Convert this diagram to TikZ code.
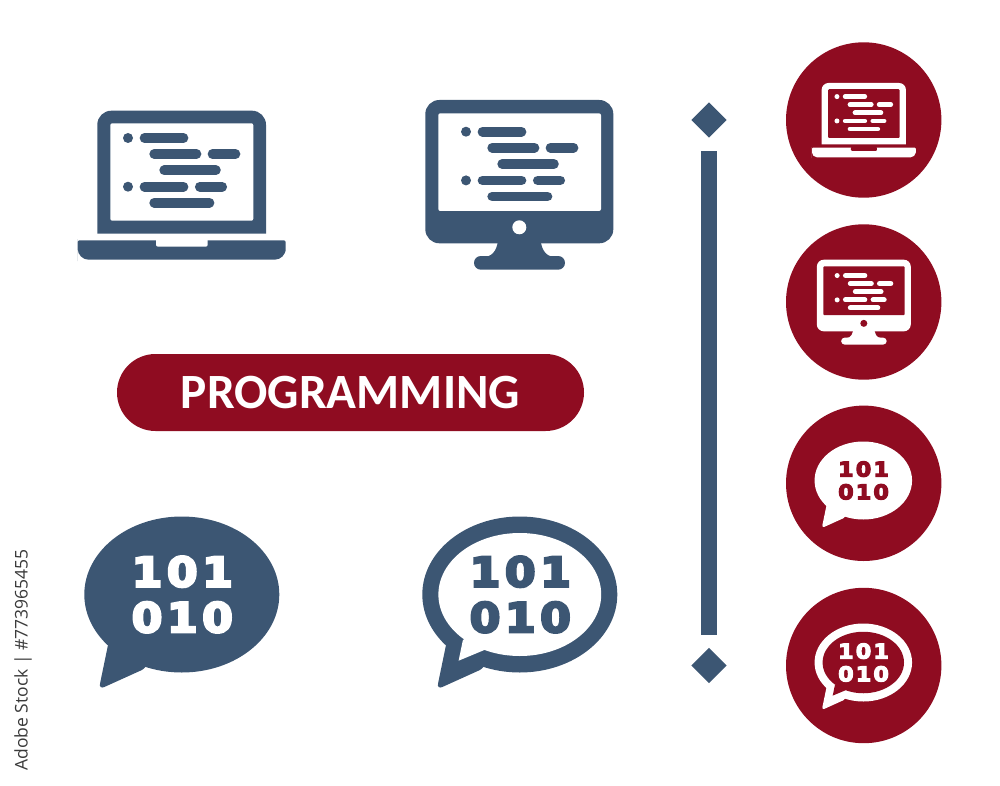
\documentclass[tikz,border=0pt]{standalone}
\usepackage{fontspec}
\setmainfont{Carlito}
\setsansfont{Open Sans}
\newfontfamily\bitfont[LetterSpace=10,FakeBold=5.5]{DejaVu Sans Bold}
\definecolor{iconblue}{HTML}{3C5673}
\definecolor{iconred}{HTML}{8F0C21}
\definecolor{sidegray}{HTML}{3A3A3A}
% the code lines on a screen, dot of the first line at the current origin
\newcommand{\codelines}[2]{
  \fill[#1] (0,0) circle (5) (0,48.7) circle (5);
  \foreach \xa/\xb/\yb in {16.5/55.5/0, 26.2/68.5/16, 84.5/107.5/16, 36.2/87.9/32.3,
      16.5/55.5/48.7, 71.8/94.2/48.7, 26.2/81.5/64.7}
    \draw[#1, line width=#2*9.7pt, line cap=round] (\xa,\yb) -- (\xb,\yb);
}
% the two rows of bits of a speech bubble
\newcommand{\bitrows}[1]{
  \node (bita) [bits, text=#1] at (0.5,-22.8) {101};
  \node (bitb) [bits, text=#1] at (0.5,22.8) {010};
}
\tikzset{
  bits/.style={inner sep=0pt, font=\bitfont\fontsize{41}{41}\selectfont, transform shape, xscale=1.08},
  pics/laptopicon/.style n args={3}{code={
    \begin{scope}[scale=#3, transform shape]
      \fill[#1] (-84.4,48.5) [rounded corners=#3*14pt] -- (-84.4,-74.5) -- (84.3,-74.5) [sharp corners] -- (84.3,48.5) -- cycle;
      \fill[#2, rounded corners=#3*2pt] (-71.4,-61.9) rectangle (71.6,35.5);
      \fill[#1] (-104,65) [rounded corners=#3*2pt] -- (-104,55.1) -- (104,55.1) -- (104,65) [rounded corners=#3*11pt] -- (104,74.5) -- (-104,74.5) -- cycle;
      \fill[#2, rounded corners=#3*2pt] (-25.7,53) rectangle (26,61.5);
      \begin{scope}[shift={(-53.7,-47.2)}]
        \codelines{#1}{#3}
      \end{scope}
    \end{scope}
  }},
  pics/monitoricon/.style n args={3}{code={
    \begin{scope}[scale=#3, transform shape]
      \fill[#1, rounded corners=#3*14pt] (-94,-84.8) rectangle (94,58.5);
      \fill[#2, rounded corners=#3*2pt] (-81,-71.5) rectangle (81.7,26.2);
      \fill[#2] (0,42.5) circle (7);
      \fill[#1] (-21,50) .. controls (-21,64) and (-26,71.2) .. (-34,72) -- (34,72) .. controls (26,71.2) and (21,64) .. (21,50) -- cycle;
      \fill[#1, rounded corners=#3*6.8pt] (-45.3,71.2) rectangle (45.7,84.9);
      \begin{scope}[shift={(-53.3,-53.1)}]
        \codelines{#1}{#3}
      \end{scope}
    \end{scope}
  }},
  pics/bubbleicon/.style n args={3}{code={
    \begin{scope}[scale=#3, transform shape]
      \fill[#1] (0,0) ellipse (97.5 and 78);
      \fill[#1] (-73.8,50.5) [rounded corners=#3*6pt] -- (-83,95) -- (-34.8,73.2) [sharp corners] -- (-30,30) -- cycle;
      \bitrows{#2}
    \end{scope}
  }},
  pics/ringicon/.style n args={3}{code={
    \begin{scope}[scale=#3, transform shape]
      \fill[#1] (0,0) ellipse (97.5 and 78);
      \fill[#1] (-73.8,50.5) [rounded corners=#3*6pt] -- (-83,95) -- (-34.8,73.2) [sharp corners] -- (-30,30) -- cycle;
      \fill[#2] (0,0) ellipse (81.4 and 61.5);
      \fill[#2] (-56.9,45.5) -- (-61.2,66.2) -- (-35.5,55.5) -- (-30,30) -- cycle;
      \bitrows{#1}
    \end{scope}
  }}
}
\begin{document}
\begin{tikzpicture}[x=1pt,y=-1pt]
  \useasboundingbox (0,0) rectangle (1000,786);
  % big icons
  \pic (laptopbig) at (181.7,185.2) {laptopicon={iconblue}{white}{1}};
  \pic (monitorbig) at (519.3,184.8) {monitoricon={iconblue}{white}{1}};
  \pic (bubblebig) at (181.8,594.5) {bubbleicon={iconblue}{white}{1}};
  \pic (ringbig) at (519.8,594.5) {ringicon={iconblue}{white}{1}};
  % title
  \node (banner) [fill=iconred, rounded corners=38.5pt, minimum width=467pt, minimum height=77pt,
    text=white, font=\bfseries\fontsize{49.3}{49.3}\selectfont] at (350.5,392.5) {PROGRAMMING};
  % divider
  \fill[iconblue] (701,151) rectangle (717,635);
  \node (diamondtop) [fill=iconblue, minimum size=25pt, inner sep=0pt, rotate=45] at (709,120) {};
  \node (diamondbot) [fill=iconblue, minimum size=25pt, inner sep=0pt, rotate=45] at (709,665.5) {};
  % small icons in circles
  \foreach \cy in {120,302,483.3,665.5}
    \fill[iconred] (863.7,\cy) circle (77.7);
  \pic (laptopsmall) at (863.8,120.2) {laptopicon={white}{iconred}{0.5}};
  \pic (monitorsmall) at (863.8,302.1) {monitoricon={white}{iconred}{0.5}};
  \pic (bubblesmall) at (863.3,480.5) {bubbleicon={white}{iconred}{0.5}};
  \pic (ringsmall) at (863.3,662.5) {ringicon={white}{iconred}{0.5}};
  % side label
  \node (sidelabel) [rotate=90, text=sidegray, inner sep=0pt, font=\sffamily\fontsize{17.5}{17.5}\selectfont] at (23,660) {Adobe Stock | \#773965455};
\end{tikzpicture}
\end{document}
